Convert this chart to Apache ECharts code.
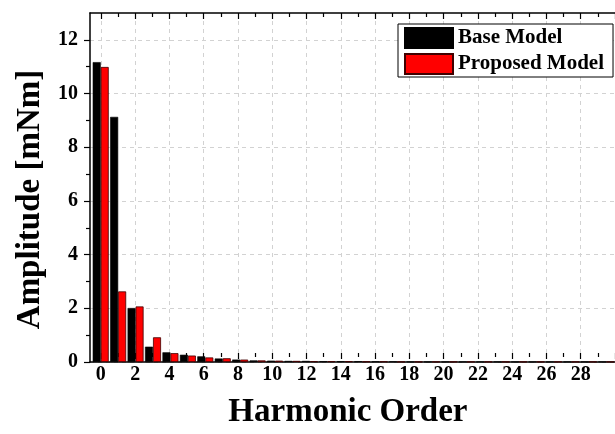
<!DOCTYPE html>
<html>
<head>
<meta charset="utf-8">
<script src="https://cdn.jsdelivr.net/npm/echarts@6/dist/echarts.min.js"></script>
<style>
  html, body { margin: 0; padding: 0; background: #fff; }
  #chart { width: 615px; height: 434px; }
</style>
</head>
<body>
<div id="chart"></div>
<script>
  // harmonic orders 0..29
  var orders = [0, 1, 2, 3, 4, 5, 6, 7, 8, 9, 10, 11, 12, 13, 14, 15, 16, 17, 18, 19, 20, 21, 22, 23, 24, 25, 26, 27, 28, 29]
  var baseModel = [11.17, 9.13, 2.01, 0.57, 0.36, 0.27, 0.21, 0.13, 0.09, 0.06, 0.05, 0.04, 0.04, 0.03, 0.03, 0.03, 0.02, 0.02, 0.01, 0.01, 0.01, 0.01, 0.01, 0.01, 0.01, 0.01, 0.01, 0.01, 0.01, 0.01]
  var proposedModel = [10.99, 2.63, 2.07, 0.92, 0.33, 0.24, 0.17, 0.14, 0.09, 0.06, 0.05, 0.04, 0.03, 0.03, 0.03, 0.02, 0.02, 0.01, 0.01, 0.01, 0.01, 0.01, 0.01, 0.01, 0.01, 0.01, 0.01, 0.01, 0.01, 0.01]

  var font = "'Liberation Serif', 'Times New Roman', serif"
  var gridTop = 13, gridBottom = 72

  function dash() {
    return {show: true, lineStyle: {color: '#d2d2d2', type: [4, 4], width: 1}}
  }
  function off() {
    return {show: false}
  }
  function tick(len, inside) {
    return {show: true, inside: !!inside, length: len, lineStyle: {color: '#000', width: 1.2}}
  }
  function minor(len) {
    return {show: true, splitNumber: 2, length: len, lineStyle: {color: '#000', width: 1.2}}
  }
  function frameLine() {
    return {show: true, lineStyle: {color: '#000', width: 1.5}}
  }

  var chart = echarts.init(document.getElementById('chart'))
  chart.setOption({
    animation: false,
    backgroundColor: '#fff',
    legend: {
      orient: 'vertical',
      left: 398,
      top: 24,
      padding: [3, 9, 2, 6],
      itemGap: 4,
      itemWidth: 48,
      itemHeight: 20,
      icon: 'rect',
      borderColor: '#000',
      borderWidth: 1,
      backgroundColor: '#fff',
      textStyle: {fontFamily: font, fontWeight: 'bold', fontSize: 21, color: '#000'},
      data: ['Base Model', 'Proposed Model']
    },
    grid: [
      // bars
      {left: 92, width: 531, top: gridTop, bottom: gridBottom},
      // x ticks / labels / vertical grid
      {left: 100.85, width: 531, top: gridTop, bottom: gridBottom},
      // frame
      {left: 90, width: 525, top: gridTop, bottom: gridBottom},
      // y ticks / labels / horizontal grid
      {left: 90, width: 525, top: 39.8, bottom: gridBottom}
    ],
    xAxis: [
      {gridIndex: 0, type: 'category', data: orders, show: false},
      {
        gridIndex: 1, type: 'value', position: 'bottom', min: 0, max: 30, interval: 2,
        axisLine: off(),
        axisTick: tick(6),
        minorTick: minor(4),
        axisLabel: {fontFamily: font, fontWeight: 'bold', fontSize: 20, color: '#000', margin: 12, showMaxLabel: false},
        splitLine: dash(),
        name: 'Harmonic Order',
        nameLocation: 'middle',
        nameGap: 43,
        nameTextStyle: {fontFamily: font, fontWeight: 'bold', fontSize: 33, color: '#000', padding: [0, 20, 0, 0]}
      },
      {
        gridIndex: 1, type: 'value', position: 'top', min: 0, max: 30, interval: 2,
        axisLine: off(),
        axisTick: tick(6, true),
        minorTick: minor(4),
        axisLabel: off(),
        splitLine: off()
      },
      {
        gridIndex: 2, type: 'value', position: 'bottom', min: 0, max: 1,
        axisLine: frameLine(),
        axisTick: off(), axisLabel: off(), splitLine: off()
      },
      {
        gridIndex: 2, type: 'value', position: 'top', min: 0, max: 1,
        axisLine: frameLine(),
        axisTick: off(), axisLabel: off(), splitLine: off()
      },
      {gridIndex: 3, type: 'value', min: 0, max: 1, show: false}
    ],
    yAxis: [
      {gridIndex: 0, type: 'value', min: 0, max: 13, show: false},
      {gridIndex: 1, type: 'value', min: 0, max: 13, show: false},
      {
        gridIndex: 2, type: 'value', min: 0, max: 13,
        axisLine: frameLine(),
        axisTick: off(), axisLabel: off(), splitLine: off(),
        name: 'Amplitude [mNm]',
        nameLocation: 'middle',
        nameGap: 43,
        nameTextStyle: {fontFamily: font, fontWeight: 'bold', fontSize: 33, color: '#000', padding: [0, 24, 0, 0]}
      },
      {
        gridIndex: 3, type: 'value', min: 0, max: 12, interval: 2,
        axisLine: off(),
        axisTick: tick(6),
        minorTick: minor(4),
        axisLabel: {fontFamily: font, fontWeight: 'bold', fontSize: 20, color: '#000', margin: 12},
        splitLine: dash()
      }
    ],
    series: [
      {
        name: 'Base Model',
        type: 'bar',
        xAxisIndex: 0,
        yAxisIndex: 0,
        barWidth: 8,
        barGap: '0%',
        itemStyle: {color: '#000', borderColor: '#000', borderWidth: 0.6},
        data: baseModel
      },
      {
        name: 'Proposed Model',
        type: 'bar',
        xAxisIndex: 0,
        yAxisIndex: 0,
        barWidth: 8,
        barGap: '0%',
        itemStyle: {color: '#ff0000', borderColor: '#400000', borderWidth: 0.8},
        data: proposedModel
      }
    ]
  })
</script>
</body>
</html>
